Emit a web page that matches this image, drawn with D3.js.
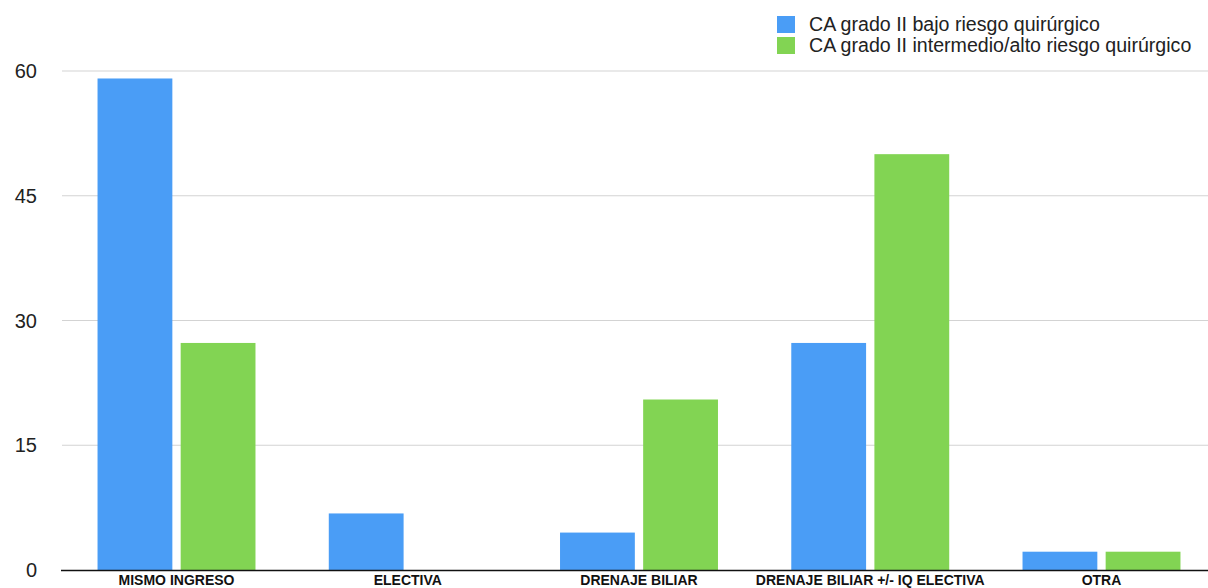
<!DOCTYPE html>
<html>
<head>
<meta charset="utf-8">
<script src="https://cdn.jsdelivr.net/npm/d3@7"></script>
<style>
	body { margin: 0; background: #fff; }
	svg { display: block; font-family: "Liberation Sans", Arial, sans-serif; }
</style>
</head>
<body>
<svg width="1208" height="588"></svg>
<script>
const categories = ["MISMO INGRESO", "ELECTIVA", "DRENAJE BILIAR", "DRENAJE BILIAR +/- IQ ELECTIVA", "OTRA"];
const seriesNames = ["CA grado II bajo riesgo quirúrgico", "CA grado II intermedio/alto riesgo quirúrgico"];
const bajoRiesgo = [59.1, 6.8, 4.5, 27.3, 2.2];
const altoRiesgo = [27.3, 0, 20.5, 50, 2.2];
const yTicks = [0, 15, 30, 45, 60];
const colors = ["#4a9df6", "#82d453"];

const svg = d3.select("svg");
const width = 1208;
const baseY = 570;

const rows = categories.map((c, i) => ({ cat: c, values: [bajoRiesgo[i], altoRiesgo[i]] }));

const x0 = d3.scaleBand()
	.domain(categories)
	.range([61, 1217])
	.paddingInner(0.317)
	.paddingOuter(0.158);

const x1 = d3.scaleBand()
	.domain([0, 1])
	.range([0, x0.bandwidth()])
	.paddingInner(0.1);

const y = d3.scaleLinear()
	.domain([0, 60])
	.range([baseY, 71]);

// gridlines
svg.append("g")
	.selectAll("line")
	.data(yTicks.filter(t => t > 0))
	.enter()
	.append("line")
	.attr("x1", 62)
	.attr("x2", width)
	.attr("y1", d => y(d))
	.attr("y2", d => y(d))
	.attr("stroke", "#d3d3d3")
	.attr("stroke-width", 1);

// y labels
svg.append("g")
	.selectAll("text")
	.data(yTicks)
	.enter()
	.append("text")
	.attr("x", 37)
	.attr("y", d => y(d))
	.attr("dy", "0.36em")
	.attr("text-anchor", "end")
	.attr("font-size", 20)
	.attr("fill", "#222")
	.text(d => d);

// bars
svg.append("g")
	.selectAll("g")
	.data(rows)
	.enter()
	.append("g")
	.attr("transform", d => `translate(${x0(d.cat)},0)`)
	.selectAll("rect")
	.data(d => d.values)
	.enter()
	.append("rect")
	.attr("x", (d, i) => x1(i))
	.attr("width", x1.bandwidth())
	.attr("y", d => y(d))
	.attr("height", d => baseY - y(d))
	.attr("fill", (d, i) => colors[i]);

// x axis
const xAxis = d3.axisBottom(x0).tickSize(0).tickPadding(0);
const xg = svg.append("g")
	.attr("transform", `translate(0,${baseY})`)
	.call(xAxis);
xg.select(".domain").remove();
xg.selectAll("text")
	.attr("font-family", "'Liberation Sans', Arial, sans-serif")
	.attr("font-size", 14)
	.attr("font-weight", "bold")
	.attr("fill", "#111")
	.attr("y", 15)
	.attr("dy", "0");

svg.append("line")
	.attr("x1", 61)
	.attr("x2", width)
	.attr("y1", baseY + 0.5)
	.attr("y2", baseY + 0.5)
	.attr("stroke", "#111")
	.attr("stroke-width", 1.6);

// legend
const legend = svg.append("g")
	.selectAll("g")
	.data(seriesNames)
	.enter()
	.append("g")
	.attr("transform", (d, i) => `translate(777,${16 + i * 21})`);

legend.append("rect")
	.attr("width", 18)
	.attr("height", 17)
	.attr("fill", (d, i) => colors[i]);

legend.append("text")
	.attr("x", 32)
	.attr("y", 15)
	.attr("font-size", 19.6)
	.attr("fill", "#222")
	.text(d => d);
</script>
</body>
</html>
